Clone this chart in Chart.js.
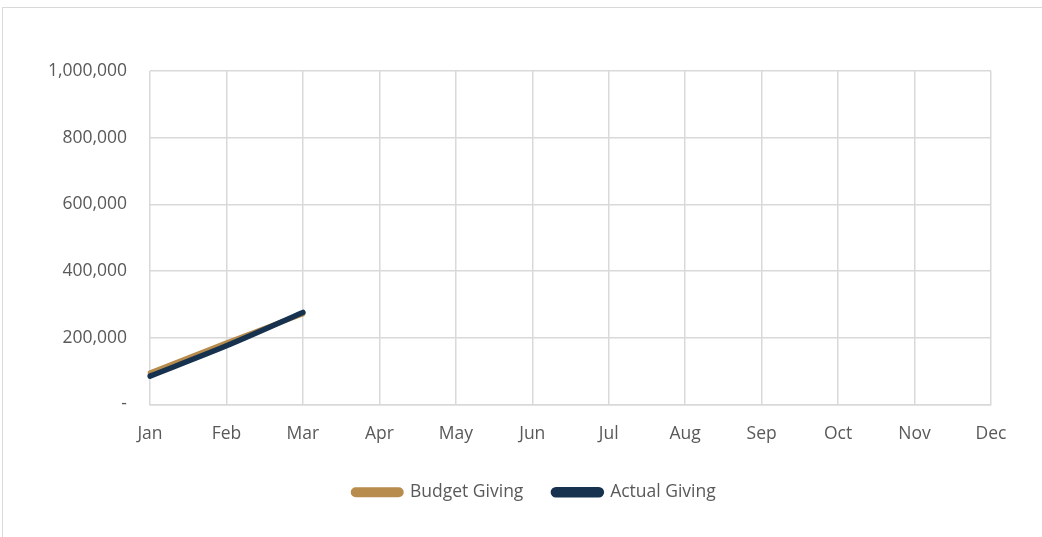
<!DOCTYPE html>
<html>
<head>
<meta charset="utf-8">
<script src="https://cdn.jsdelivr.net/npm/chart.js@4"></script>
<style>
  html, body { margin: 0; padding: 0; background: #fff; }
  #frame {
    position: absolute; left: 2px; top: 7px; width: 1100px; height: 600px;
    border: 1px solid #d9d9d9; box-sizing: border-box;
  }
  #wrap { position: absolute; left: 0; top: 0; width: 1042px; height: 537px; }
</style>
</head>
<body>
<div id="frame"></div>
<div id="wrap"><canvas id="givingChart" width="1042" height="537"></canvas></div>
<script>
// Datos
const months = ['Jan', 'Feb', 'Mar', 'Apr', 'May', 'Jun', 'Jul', 'Aug', 'Sep', 'Oct', 'Nov', 'Dec'];
const budgetGiving = [95000, 185000, 272000, null, null, null, null, null, null, null, null, null];
const actualGiving = [85000, 176000, 276000, null, null, null, null, null, null, null, null, null];
const yTicks = [0, 200000, 400000, 600000, 800000, 1000000];

// Mueve la leyenda un poco a la derecha, como en el original
const legendShift = {
    id: 'legendShift',
    afterUpdate(chart) {
        const lg = chart.legend;
        if (!lg) return;
        lg.left += 39;
        lg.right += 39;
        lg.adjustHitBoxes();
    }
};

document.addEventListener('DOMContentLoaded', function() {
    const ctx = document.getElementById('givingChart').getContext('2d');
    const gold = '#b88c4c';
    const navy = '#17324f';
    const font = { family: 'Open Sans', size: 17.5 };
    new Chart(ctx, {
        type: 'line',
        data: {
            labels: months,
            datasets: [{
                label: 'Budget Giving',
                data: budgetGiving,
                borderColor: gold,
                backgroundColor: gold,
                borderWidth: 5,
                tension: 0.3,
                pointRadius: 0,
                borderCapStyle: 'round',
                order: 2
            }, {
                label: 'Actual Giving',
                data: actualGiving,
                borderColor: navy,
                backgroundColor: navy,
                borderWidth: 5.5,
                tension: 0.3,
                pointRadius: 0,
                borderCapStyle: 'round',
                order: 1
            }]
        },
        options: {
            responsive: false,
            animation: false,
            layout: { padding: { left: 0, right: 51, top: 71, bottom: 26 } },
            scales: {
                x: {
                    offset: false,
                    grid: { color: '#d9d9d9', lineWidth: 1.5, drawTicks: false },
                    border: { color: '#d9d9d9', width: 1.5 },
                    ticks: {
                        color: '#595959',
                        padding: 19,
                        maxRotation: 0,
                        font: font
                    },
                    afterFit: function(scale) { scale.height = 49; }
                },
                y: {
                    min: 0,
                    max: 1000000,
                    afterBuildTicks: function(scale) {
                        scale.ticks = yTicks.map(v => ({ value: v }));
                    },
                    grid: { color: '#d9d9d9', lineWidth: 1.5, drawTicks: false },
                    border: { display: false },
                    ticks: {
                        color: '#595959',
                        padding: 23,
                        font: font,
                        callback: function(v) { return v === 0 ? '-' : v.toLocaleString('en-US'); }
                    },
                    afterFit: function(scale) { scale.width = 150; }
                }
            },
            plugins: {
                legend: {
                    position: 'bottom',
                    labels: {
                        color: '#595959',
                        font: font,
                        boxWidth: 48,
                        boxHeight: 5,
                        useBorderRadius: true,
                        borderRadius: 2.5,
                        padding: 30,
                        sort: (a, b) => a.datasetIndex - b.datasetIndex
                    }
                },
                tooltip: { enabled: false }
            }
        },
        plugins: [legendShift]
    });
});
</script>
</body>
</html>
